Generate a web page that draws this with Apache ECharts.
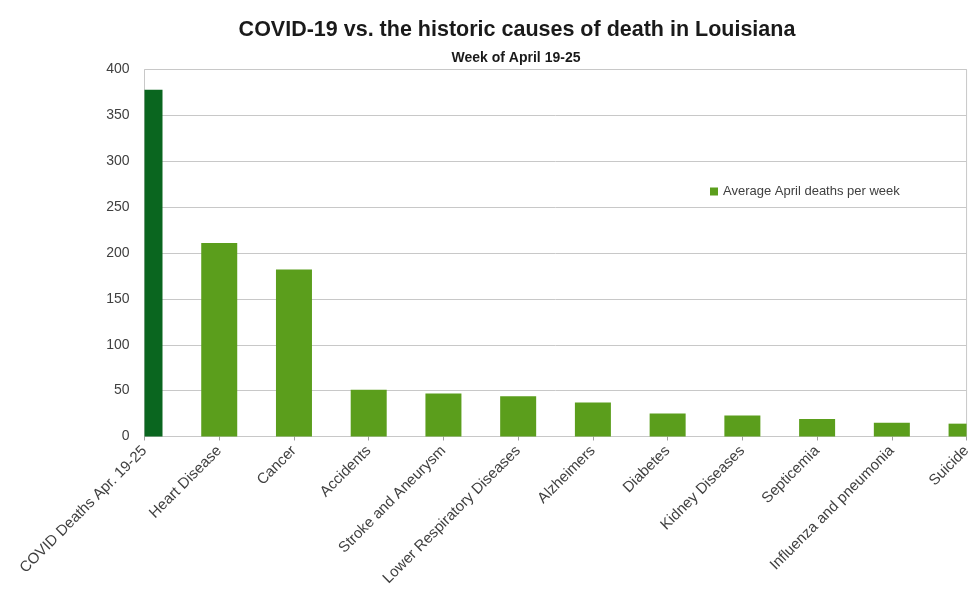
<!DOCTYPE html>
<html>
<head>
<meta charset="utf-8">
<script src="https://cdn.jsdelivr.net/npm/echarts@6/dist/echarts.min.js"></script>
<style>html,body{margin:0;padding:0;background:#fff;}#c{width:974px;height:597px;}</style>
</head>
<body>
<div id="c"></div>
<script>
var categories = ["COVID Deaths Apr. 19-25","Heart Disease","Cancer","Accidents","Stroke and Aneurysm","Lower Respiratory Diseases","Alzheimers","Diabetes","Kidney Diseases","Septicemia","Influenza and pneumonia","Suicide"];
var deaths = [378, 211, 182, 51, 47, 44, 37, 25, 23, 19, 15, 14];
var yTicks = [0, 50, 100, 150, 200, 250, 300, 350, 400];
var seriesName = "Average April deaths per week";
var titleText = "COVID-19 vs. the historic causes of death in Louisiana";
var subtitleText = "Week of April 19-25";

var COVID_COLOR = '#0a661f';
var AVG_COLOR = '#5b9e1c';
var BAR_WIDTH = 36;

var chart = echarts.init(document.getElementById('c'));
var data = deaths.map(function (v, i) {
  var item = { value: [i, v] };
  if (i === 0) item.itemStyle = { color: COVID_COLOR };
  return item;
});

function renderBar(params, api) {
  var idx = api.value(0);
  var val = api.value(1);
  var top = api.coord([idx, val]);
  var base = api.coord([idx, 0]);
  var cs = params.coordSys;
  var rect = echarts.graphic.clipRectByRect(
    { x: top[0] - BAR_WIDTH / 2, y: top[1], width: BAR_WIDTH, height: base[1] - top[1] },
    { x: cs.x, y: cs.y, width: cs.width, height: cs.height }
  );
  if (!rect) return null;
  return { type: 'rect', shape: rect, style: { fill: api.visual('color') } };
}

chart.setOption({
  animation: false,
  backgroundColor: '#ffffff',
  title: [{
    text: titleText, left: 512, textAlign: 'center', top: 14,
    textStyle: { fontFamily: 'Liberation Sans', fontWeight: 'bold', fontSize: 21.5, color: '#1a1a1a' }
  }, {
    text: subtitleText, left: 511, textAlign: 'center', top: 46,
    textStyle: { fontFamily: 'Liberation Sans', fontWeight: 'bold', fontSize: 14, color: '#1a1a1a' }
  }],
  legend: {
    data: [seriesName], left: 705, top: 180, itemWidth: 8, itemHeight: 8, itemGap: 4,
    icon: 'rect',
    textStyle: { fontFamily: 'Liberation Sans', fontSize: 13, color: '#404040' }
  },
  grid: {
    left: 144.5, right: 3, top: 69.5, bottom: 160.5,
    show: true, borderColor: '#c8c8c8', borderWidth: 1
  },
  xAxis: {
    type: 'category', data: categories, boundaryGap: false,
    axisLine: { lineStyle: { color: '#c8c8c8' } },
    axisTick: { show: true, length: 4, lineStyle: { color: '#a0a0a0' } },
    axisLabel: {
      interval: 0, rotate: 45, margin: 12,
      fontFamily: 'Liberation Sans', fontSize: 15, color: '#404040'
    }
  },
  yAxis: {
    type: 'value', min: 0, max: 400, interval: 50,
    axisLine: { show: false }, axisTick: { show: false },
    splitLine: { lineStyle: { color: '#c8c8c8' } },
    axisLabel: {
      margin: 15, fontFamily: 'Liberation Sans', fontSize: 14, color: '#404040',
      formatter: function (v) { return yTicks.indexOf(v) >= 0 ? String(v) : ''; }
    }
  },
  series: [{
    name: seriesName, type: 'custom', data: data, renderItem: renderBar,
    encode: { x: 0, y: 1 },
    itemStyle: { color: AVG_COLOR }
  }]
});
</script>
</body>
</html>
